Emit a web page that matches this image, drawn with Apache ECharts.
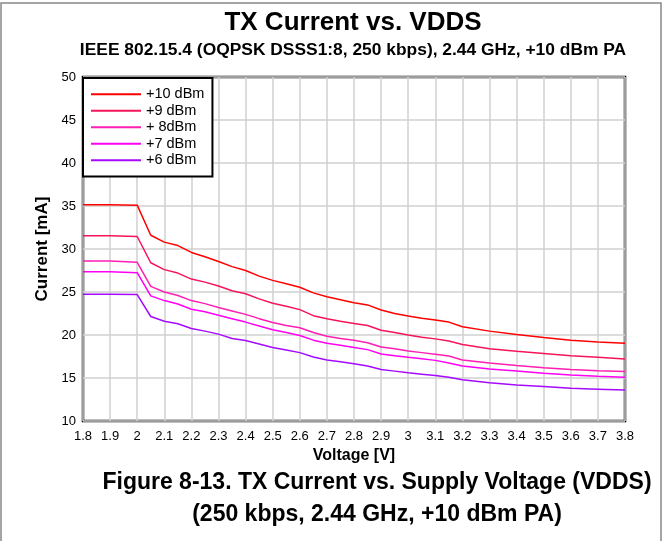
<!DOCTYPE html>
<html lang="en">
  <head>
    <meta charset="UTF-8" />
    <title>TX Current vs. VDDS</title>
    <script src="https://cdn.jsdelivr.net/npm/echarts@6/dist/echarts.min.js"></script>
    <style>
      html, body { margin: 0; padding: 0; background: #fff; }
      .echarts { width: 663px; height: 541px; }
    </style>
  </head>
  <body>
    <div class="echarts"></div>
    <script>
      // voltage [V] and current [mA] for each PA output level
      const voltage = [1.8, 1.9, 2.0, 2.05, 2.1, 2.15, 2.2, 2.25, 2.3, 2.35, 2.4, 2.45, 2.5, 2.55, 2.6,
        2.65, 2.7, 2.75, 2.8, 2.85, 2.9, 2.95, 3.0, 3.05, 3.1, 3.15, 3.2, 3.3, 3.4, 3.5, 3.6, 3.7, 3.8]
      const dbm10 = [35.15, 35.15, 35.1, 31.6, 30.8, 30.4, 29.6, 29.1, 28.55, 27.95, 27.5, 26.85, 26.35, 25.95, 25.55,
        24.9, 24.45, 24.1, 23.75, 23.5, 22.9, 22.5, 22.2, 21.95, 21.75, 21.5, 20.95, 20.45, 20.05, 19.7, 19.4, 19.2, 19.05]
      const dbm9 = [31.55, 31.55, 31.45, 28.4, 27.6, 27.2, 26.5, 26.15, 25.7, 25.15, 24.8, 24.2, 23.7, 23.35, 22.95,
        22.25, 21.9, 21.6, 21.35, 21.1, 20.55, 20.3, 20.0, 19.75, 19.55, 19.3, 18.9, 18.4, 18.1, 17.85, 17.6, 17.4, 17.2]
      const dbm8 = [28.6, 28.6, 28.45, 25.65, 25.0, 24.6, 24.0, 23.65, 23.2, 22.8, 22.4, 21.9, 21.45, 21.1, 20.85,
        20.3, 19.85, 19.6, 19.4, 19.1, 18.6, 18.4, 18.15, 17.95, 17.75, 17.55, 17.1, 16.75, 16.45, 16.2, 16.0, 15.85, 15.75]
      const dbm7 = [27.35, 27.35, 27.25, 24.55, 24.0, 23.6, 23.0, 22.7, 22.3, 21.9, 21.5, 21.05, 20.6, 20.3, 19.95,
        19.4, 19.05, 18.8, 18.55, 18.3, 17.8, 17.6, 17.4, 17.25, 17.05, 16.75, 16.4, 16.05, 15.8, 15.55, 15.35, 15.2, 15.1]
      const dbm6 = [24.75, 24.75, 24.7, 22.15, 21.6, 21.3, 20.75, 20.45, 20.1, 19.6, 19.35, 18.95, 18.55, 18.25, 17.95,
        17.45, 17.1, 16.9, 16.65, 16.4, 16.0, 15.8, 15.6, 15.45, 15.3, 15.1, 14.8, 14.45, 14.2, 14.0, 13.8, 13.7, 13.6]

      const seriesNames = ['+10 dBm', '+9 dBm', '+ 8dBm', '+7 dBm', '+6 dBm']
      const seriesData = [dbm10, dbm9, dbm8, dbm7, dbm6]
      const colors = ['#ff0000', '#f5145a', '#ff1eb4', '#ff00f5', '#a50aff']

      const font = 'Liberation Sans, Arial, sans-serif'
      const myCharts = echarts.init(document.querySelector('.echarts'))

      const option = {
        color: colors,
        animation: false,
        textStyle: { fontFamily: font, color: '#000' },

        title: [
          {
            text: 'TX Current vs. VDDS',
            left: 348, top: 5, textAlign: 'center',
            textStyle: { fontSize: 26, fontWeight: 'bold', fontFamily: font, color: '#000' }
          },
          {
            text: 'IEEE 802.15.4 (OQPSK DSSS1:8, 250 kbps), 2.44 GHz, +10 dBm PA',
            left: 348, top: 37, textAlign: 'center',
            textStyle: { fontSize: 17.4, fontWeight: 'bold', fontFamily: font, color: '#000' }
          },
          {
            text: 'Figure 8-13. TX Current vs. Supply Voltage (VDDS)',
            left: 372, top: 466, textAlign: 'center',
            textStyle: { fontSize: 23, fontWeight: 'bold', fontFamily: font, color: '#000' }
          },
          {
            text: '(250 kbps, 2.44 GHz, +10 dBm PA)',
            left: 372, top: 498, textAlign: 'center',
            textStyle: { fontSize: 23, fontWeight: 'bold', fontFamily: font, color: '#000' }
          }
        ],

        // thin grey page frame
        graphic: [{
          type: 'rect',
          shape: { x: 1, y: 3, width: 660, height: 560 },
          style: { fill: 'none', stroke: '#888', lineWidth: 1.5 },
          silent: true
        }],

        legend: {
          data: seriesNames,
          orient: 'vertical',
          left: 83, top: 78,
          padding: [8, 8, 8, 8],
          itemGap: 0,
          itemWidth: 50, itemHeight: 2,
          icon: 'rect',
          backgroundColor: '#fff',
          borderColor: '#000', borderWidth: 2,
          textStyle: { fontSize: 14.5, fontFamily: font, color: '#000', lineHeight: 16.5 }
        },

        grid: {
          left: 83, right: 38, top: 77, bottom: 120,
          show: true, borderColor: '#000', borderWidth: 2.5
        },

        xAxis: {
          type: 'value',
          min: 1.8, max: 3.8, interval: 0.1,
          name: 'Voltage [V]',
          nameLocation: 'middle', nameGap: 24,
          nameTextStyle: { fontSize: 16, fontWeight: 'bold', color: '#000' },
          axisLine: { show: false },
          axisTick: { show: false },
          axisLabel: { fontSize: 13, color: '#000', margin: 9, formatter: v => String(+v.toFixed(1)) },
          splitLine: { lineStyle: { color: '#d0d0d0', width: 1.5 } }
        },

        yAxis: {
          type: 'value',
          min: 10, max: 50, interval: 5,
          name: 'Current [mA]',
          nameLocation: 'middle', nameGap: 25,
          nameTextStyle: { fontSize: 17, fontWeight: 'bold', color: '#000' },
          axisLine: { show: false },
          axisTick: { show: false },
          axisLabel: { fontSize: 13, color: '#000', margin: 7 },
          splitLine: { lineStyle: { color: '#d0d0d0', width: 1.5 } }
        },

        series: seriesNames.map((name, i) => ({
          name: name,
          type: 'line',
          showSymbol: false,
          lineStyle: { width: 1.5 },
          data: voltage.map((v, k) => [v, seriesData[i][k]])
        }))
      }
      myCharts.setOption(option)
    </script>
  </body>
</html>
